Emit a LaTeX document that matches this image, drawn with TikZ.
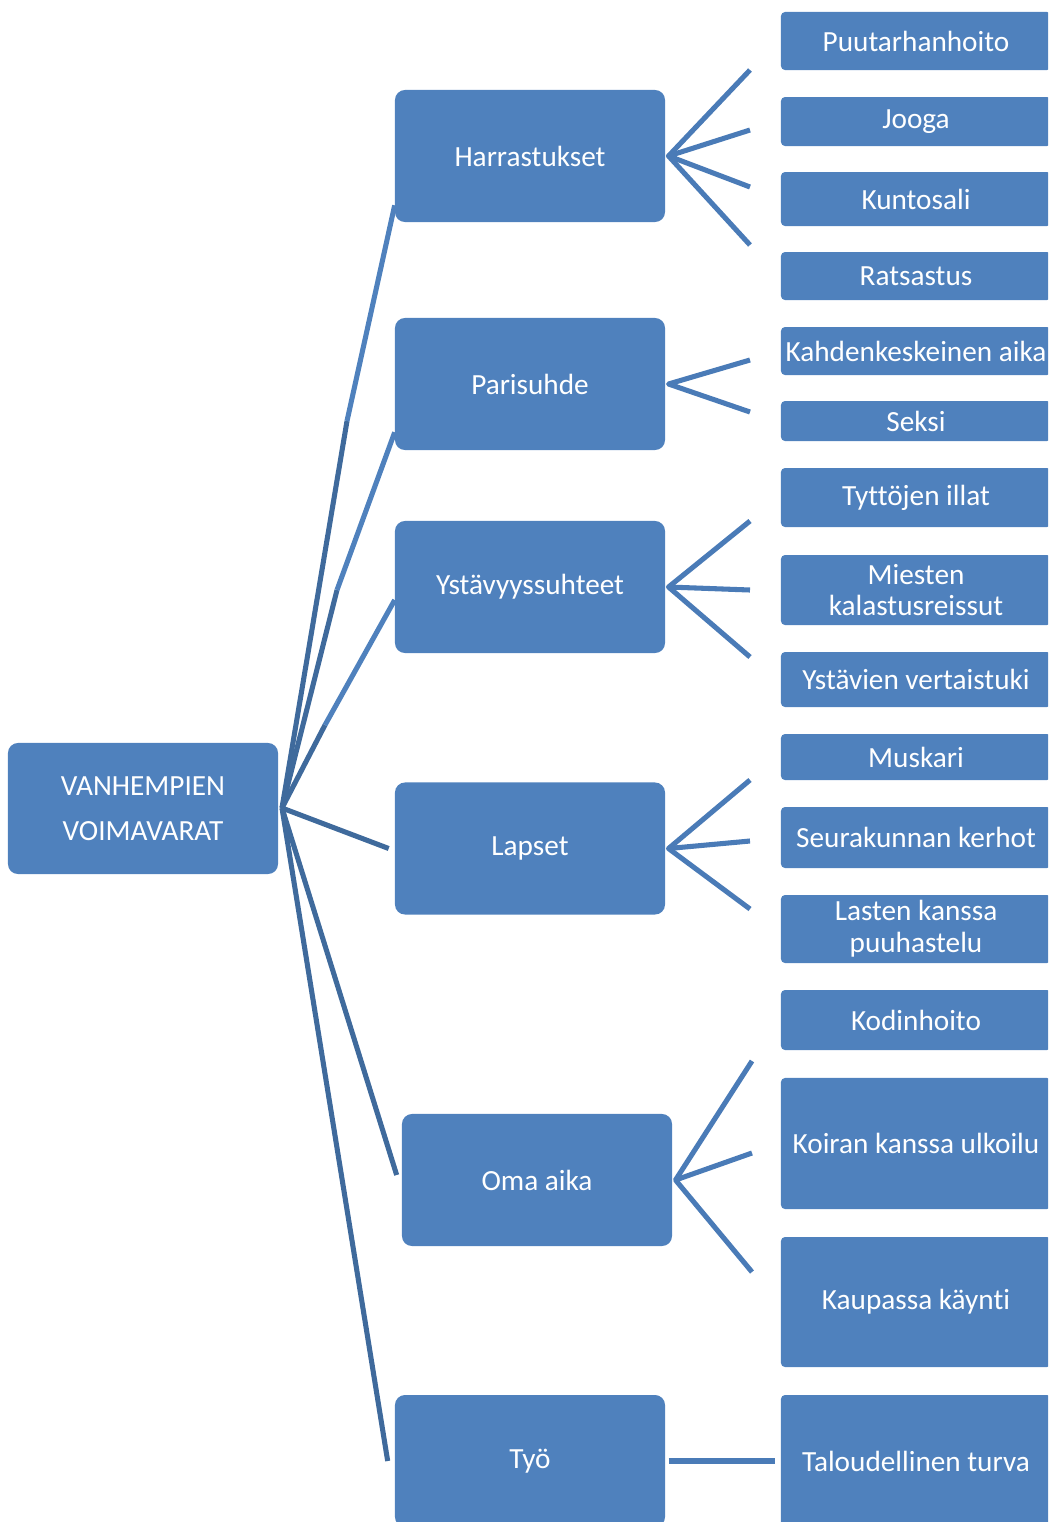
\documentclass[tikz,border=0pt]{standalone}
\usepackage{fontspec}
\setmainfont{Carlito}[Ligatures=NoCommon]
\definecolor{boxblue}{HTML}{4F81BD}
\definecolor{darkline}{HTML}{3F6A9C}
\definecolor{fanline}{HTML}{4A7BB7}
\tikzset{
  box/.style={fill=boxblue, text=white, align=center, inner sep=0pt,
    minimum width=6.75cm, minimum height=3.3cm, rounded corners=0.25cm,
    font=\fontsize{20.8}{25}\selectfont},
  leaf/.style={box, rounded corners=0.1cm},
  trunk/.style={draw=darkline, line width=3.6pt},
  trunklight/.style={draw=boxblue, line width=3.6pt},
  twig/.style={draw=fanline, line width=3.6pt, line join=round},
}
\begin{document}
\begin{tikzpicture}[x=0.025cm, y=-0.025cm]
\useasboundingbox (0,0) rectangle (1048,1522);
\clip (0,0) rectangle (1048,1522);
% main topic and its branches
\node[box, minimum height=3.275cm] (root) at (143,808.5) {VANHEMPIEN\\[0.25cm]VOIMAVARAT};
\node[box] (harr) at (530,156) {Harrastukset};
\node[box] (pari) at (530,384) {Parisuhde};
\node[box] (ystav) at (530,587) {Ystävyyssuhteet};
\node[box] (lapset) at (530,848.5) {Lapset};
\node[box] (oma) at (537,1180) {Oma aika};
\node[box] (tyo) at (530,1461) {Työ};
% leaves
\node[leaf, minimum height=1.45cm] (puut) at (916,41) {Puutarhanhoito};
\node[leaf, minimum height=1.225cm] (jooga) at (916,121.5) {Jooga};
\node[leaf, minimum height=1.35cm] (kunto) at (916,199) {Kuntosali};
\node[leaf, minimum height=1.2cm] (ratsa) at (916,276) {Ratsastus};
\node[leaf, minimum height=1.2cm] (kahd) at (916,351) {Kahdenkeskeinen aika};
\node[leaf, minimum height=1cm] (seksi) at (916,421) {Seksi};
\node[leaf, minimum height=1.475cm] (tytot) at (916,497.5) {Tyttöjen illat};
\node[leaf, minimum height=1.75cm, font=\fontsize{20.8}{22.7}\selectfont] (miehet) at (916,590) {Miesten\\kalastusreissut};
\node[leaf, minimum height=1.375cm] (vertais) at (916,679.5) {Ystävien vertaistuki};
\node[leaf, minimum height=1.15cm] (muskari) at (916,757) {Muskari};
\node[leaf, minimum height=1.525cm] (kerhot) at (916,837.5) {Seurakunnan kerhot};
\node[leaf, minimum height=1.7cm, font=\fontsize{20.8}{22.7}\selectfont] (puuhas) at (916,929) {Lasten kanssa\\puuhastelu};
\node[leaf, minimum height=1.5cm] (koti) at (916,1020) {Kodinhoito};
\node[leaf, minimum height=3.275cm] (koira) at (916,1143.5) {Koiran kanssa ulkoilu};
\node[leaf, minimum height=3.25cm] (kauppa) at (916,1302) {Kaupassa käynti};
\node[leaf] (talous) at (916,1461) {Taloudellinen turva};
% trunk lines from the main topic
\coordinate (hub) at (282,808);
\coordinate (jharr) at (347,421);
\coordinate (jpari) at (337,590);
\coordinate (jystav) at (325,725);
\draw[trunk] (hub) -- (jharr);
\draw[trunklight] (jharr) -- ([yshift=0.425cm]harr.south west);
\draw[trunk] (hub) -- (jpari);
\draw[trunklight] (jpari) -- ([yshift=0.45cm]pari.south west);
\draw[trunk] (hub) -- (jystav);
\draw[trunklight] (jystav) -- ([yshift=-0.325cm]ystav.west);
\draw[trunk] (hub) -- ([xshift=-0.15cm]lapset.west);
\draw[trunk] (hub) -- ([xshift=-0.125cm,yshift=0.125cm]oma.west);
\draw[trunk] (hub) -- ([xshift=-0.175cm]tyo.west);
% fans towards the leaves
\coordinate (h1) at (750,70);
\coordinate (h2) at (750,130);
\coordinate (h3) at (750,187);
\coordinate (h4) at (750,245);
\draw[twig] (h1) -- ([xshift=0.08cm]harr.east) -- (h4);
\draw[twig] (h2) -- ([xshift=0.08cm]harr.east) -- (h3);
\coordinate (p1) at (750,360);
\coordinate (p2) at (750,412);
\draw[twig] (p1) -- ([xshift=0.08cm]pari.east) -- (p2);
\coordinate (y1) at (750,521);
\coordinate (y2) at (750,590);
\coordinate (y3) at (750,657);
\draw[twig] (y1) -- ([xshift=0.08cm]ystav.east) -- (y3);
\draw[twig] ([xshift=0.08cm]ystav.east) -- (y2);
\coordinate (l1) at (750,780);
\coordinate (l2) at (750,841);
\coordinate (l3) at (750,909);
\draw[twig] (l1) -- ([xshift=0.08cm]lapset.east) -- (l3);
\draw[twig] ([xshift=0.08cm]lapset.east) -- (l2);
\coordinate (o1) at (752,1061);
\coordinate (o2) at (752,1153);
\coordinate (o3) at (752,1272);
\draw[twig] (o1) -- ([xshift=0.08cm]oma.east) -- (o3);
\draw[twig] ([xshift=0.08cm]oma.east) -- (o2);
\draw[twig] ([xshift=0.08cm]tyo.east) -- ([xshift=-0.15cm]talous.west);
\end{tikzpicture}
\end{document}
